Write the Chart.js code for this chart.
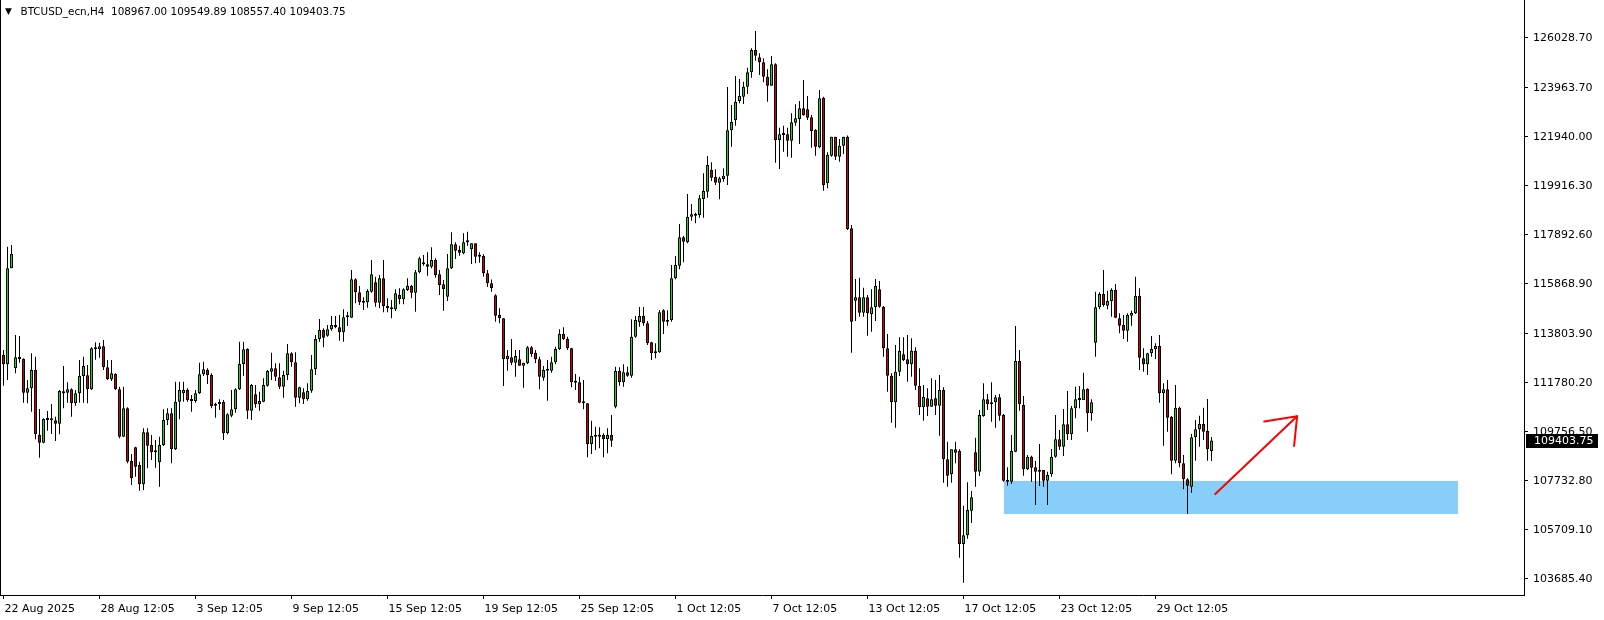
<!DOCTYPE html>
<html>
<head>
<meta charset="utf-8">
<title>BTCUSD_ecn,H4</title>
<script src="https://cdn.jsdelivr.net/npm/chart.js@4.4.0/dist/chart.umd.min.js"></script>
<style>
  html, body { margin: 0; padding: 0; background: #fff; }
  canvas { display: block; }
</style>
</head>
<body>
<canvas id="myChart" width="1604" height="620"></canvas>
<script>
const symbolName = 'BTCUSD_ecn,H4';

// H4 candles, one entry per bar (bar 0 = 22 Aug 12:05)
const opens = [
  112936,112551,116516,112386,112854,112771,111381,111560,112317,109632,
  109316,110252,110279,110238,110100,111353,111381,111518,110940,111353,
  112069,112097,111518,113170,113170,113294,112427,111931,112152,111518,
  109563,110734,108559,109123,108393,107595,109743,109219,108972,108504,
  109219,110252,110527,109040,111009,111353,111491,111078,111037,111353,
  112138,112317,112110,110899,110899,110995,109701,110431,110692,111518,
  112565,113184,110637,111312,110899,111009,111670,112248,112386,112014,
  111628,112110,113005,112633,111174,111394,111105,111463,112345,113597,
  113969,113735,113996,114175,114079,113873,114492,114478,116061,115525,
  115139,115112,115552,115938,115098,116103,114960,114891,114822,115414,
  115235,115621,115800,115511,116351,116764,116681,116584,116860,116268,
  115855,115346,116516,117507,117273,117135,117590,117300,117548,117025,
  117025,116309,115900,115400,114589,114451,112758,112840,112620,112758,
  112496,112592,113253,113033,112758,112000,112317,112289,112634,113170,
  113804,113597,113212,111835,111808,110995,110940,109261,109564,109564,
  109632,109467,109632,110803,112276,111807,112221,112083,113694,114286,
  114547,114244,113460,113074,113047,114781,114382,114382,116103,116626,
  117796,117590,118650,118691,118718,119379,119682,120577,120288,120054,
  120205,120343,122215,122642,123427,123606,124019,124611,125533,125230,
  125024,124432,124060,124941,121816,122022,122050,121789,122532,122683,
  123124,123083,122752,122229,121513,123564,120026,121169,121954,121128,
  121582,121954,118168,115180,115318,114684,115318,114616,114905,115648,
  114932,113212,112083,110981,112248,112964,112757,112551,113115,111657,
  110775,111146,110803,111146,110844,111491,108627,108008,109040,108972,
  105131,105489,106507,108916,108118,110417,111105,110899,110982,111188,
  110458,107746,107705,108944,112689,110871,108214,108738,108297,108145,
  108187,107746,108008,108738,109453,109150,110073,109660,110734,111119,
  111078,111532,110527,113446,114905,115456,114974,115167,115621,114451,
  114175,113941,114561,114657,115373,112799,112551,113005,113171,113308,
  111353,111518,110390,108572,110761,108462,107801,107499,109536,109866,
  110087,109798,108967.00
];
const highs = [
  113143,117411,117479,113762,113721,112799,111904,113005,112868,110706,
  110321,110624,110913,110390,111491,112482,111808,111560,111491,112730,
  112868,112523,113253,113460,113446,113556,112730,112730,112179,111628,
  111628,110775,108848,109150,108531,109907,109907,109632,109426,109564,
  110692,110734,110734,111835,111835,111835,111560,111284,111491,112620,
  112661,112386,112179,110968,111105,111078,110527,111491,111560,113487,
  113487,113220,111739,111698,111422,111973,112317,113033,112592,112592,
  112289,113391,113047,113047,111628,111560,111766,112936,113762,114423,
  114038,114175,114547,114547,114588,114822,114726,116447,116103,115786,
  115318,115648,116860,116172,116240,116860,115277,115208,115648,115690,
  115690,116103,115827,116447,116998,117066,117177,117383,116929,116447,
  116034,117108,118003,117590,117452,117961,118030,117548,117548,117177,
  117094,116450,116050,115450,114864,114451,113143,113597,113143,113143,
  112620,113308,113308,113143,112868,112482,112730,112868,113281,113997,
  114079,113694,113239,112152,112042,111904,110940,110224,109977,109949,
  109701,109908,110459,112455,112427,112551,112455,114409,114547,114919,
  114919,114341,113487,113418,114795,114823,114781,116653,117025,118347,
  117851,119586,119173,118815,119544,120439,121155,120894,120604,120302,
  120646,124005,123262,124459,124335,124225,124803,125602,126318,125395,
  125189,124734,125285,124982,122325,122408,122325,122918,123289,123427,
  124294,123633,122848,122256,123881,123606,121307,121954,121954,121857,
  121954,122000,118305,116075,116130,115717,115414,115648,116075,115993,
  114960,113804,112179,113349,113666,113666,113763,113625,113253,112386,
  111698,111560,111973,111904,112110,111601,109357,109040,109357,109040,
  106714,107677,107320,109522,110665,111766,111326,111808,111285,111326,
  110500,108297,109633,114134,113143,111243,108806,108779,108558,109261,
  108187,108118,109054,110458,109839,110706,111450,110830,111629,111656,
  112207,111560,111105,115552,115525,116447,115593,115690,115869,114657,
  114588,114657,114767,116172,115690,113212,113033,113721,113418,113762,
  111766,111904,110417,111697,110803,108806,107843,109674,110252,110431,
  110761,111119,109549.89
];
const lows = [
  111670,111904,116516,112179,112620,110968,110940,110596,109453,108696,
  109288,109811,109674,109385,109660,110734,110968,110390,110844,110968,
  110968,110940,111491,112744,112826,112317,111904,111863,111491,109495,
  109563,108462,107567,107912,107334,107361,108256,108600,108283,107499,
  109178,110045,108462,109013,110280,111009,111009,110596,110968,111326,
  112069,111739,110734,110348,110665,109426,109660,110362,110555,111491,
  112083,110293,110252,110761,110637,110981,111628,111904,111863,111532,
  111174,111904,112455,110802,110940,110913,111050,111381,112110,113487,
  113253,113694,113941,114038,113528,113487,114134,114478,115070,115002,
  114795,114891,115511,114932,114864,114698,114698,114451,114754,115029,
  115029,115580,115277,114726,116309,116626,116213,116516,116130,115414,
  114767,115167,116488,116901,117039,117094,117452,116695,116722,116750,
  116172,115750,115550,114313,114244,111656,112289,112523,112042,112496,
  111587,112551,112868,112592,111518,111877,111050,112207,112551,113143,
  113556,113143,111601,111491,110940,110692,108710,108848,109013,109082,
  108710,108875,109150,110734,111670,111629,112042,112000,113653,114107,
  114148,113349,112730,112799,113033,113804,114148,114313,116062,116475,
  116764,117548,118484,118374,118608,118608,119434,120123,119957,119365,
  120095,119957,121541,122408,123330,123303,123716,124390,125092,124500,
  124198,123399,124060,120880,120618,121334,121128,121086,122408,121651,
  122821,122642,121500,121169,121472,119723,119820,121128,120990,120921,
  121238,118099,113033,114340,114519,114519,113735,113900,114340,114891,
  112868,111422,110142,109935,112069,112689,111835,112042,111491,110458,
  110224,110417,110803,110458,109604,107664,107499,107664,108462,104567,
  103534,105350,106000,107499,107939,110390,110665,110183,109935,110224,
  107705,107540,107609,108916,110637,107953,108187,107705,106741,107527,
  107499,106741,107912,108696,109013,108765,109426,109426,110321,110734,
  111078,109770,110224,112868,114823,114933,114823,114520,114451,113831,
  113597,113487,114148,114630,112317,112248,112110,112868,112771,110968,
  109192,109770,108008,108462,108297,107389,106370,107251,108572,109150,
  109426,108572,108557.40
];
const closes = [
  112551,116516,117108,112840,112757,111381,111560,112317,109660,109316,
  110293,110279,110238,110100,111450,111408,111518,110940,111353,112069,
  112482,111518,113212,113212,113294,112427,111945,112179,111518,109563,
  110734,108531,107843,108324,107595,109743,109191,108917,108917,109219,
  110252,110527,109040,111009,111491,111491,111078,111037,111353,112138,
  112345,112110,110830,110844,110995,109701,110486,110692,111518,112565,
  113171,110637,111698,110899,111036,111698,112276,112386,112042,111628,
  112110,113005,112633,111174,111601,111105,111463,112345,113597,113969,
  113652,113996,114175,114079,113873,114492,114520,116061,115525,115112,
  115098,115580,116268,115098,116103,114960,114864,114822,115483,115235,
  115648,115800,115511,116351,116929,116681,116584,116860,116240,115827,
  115662,116516,117507,117245,117163,117590,117617,117548,116998,116998,
  116309,115900,115700,114561,114451,112758,112895,112620,112895,112496,
  112620,113253,112978,112758,112042,112317,112289,112634,113184,113804,
  113597,113212,111808,111794,110968,110940,109261,109591,109605,109632,
  109453,109632,109398,112276,111807,112221,112083,113694,114382,114547,
  114244,113418,113006,113006,114699,114313,114313,116103,116653,117796,
  117617,118650,118746,118760,119407,119710,120783,120260,120054,120233,
  120343,122215,122573,123399,123633,124019,124611,125533,125299,125024,
  124432,124060,124941,121816,122050,122064,121789,122546,122711,123124,
  122848,122738,122188,121541,123537,119957,121196,121954,121128,121582,
  121954,118140,114313,115318,114684,115318,114657,114905,115800,114932,
  113212,112083,110981,112248,113115,112730,112551,113115,111670,110775,
  111215,110803,111105,110844,111491,108627,107953,109040,108903,105131,
  105489,106535,107058,108118,110458,111105,110899,110982,111188,110431,
  107746,107705,108971,112689,110899,108214,108738,108283,108118,108118,
  107746,107981,108738,109453,109150,110073,109660,110734,111105,111078,
  111518,110527,110982,114905,115456,115001,115167,115621,114478,114148,
  113941,114588,114685,115373,112826,112551,113005,113184,113308,111353,
  111518,110348,108572,110761,108462,107801,107540,109536,109866,110087,
  109770,109040,109403.75
];

// time scale labels and the bar each one belongs to
const timeLabels = ['22 Aug 2025','28 Aug 12:05','3 Sep 12:05','9 Sep 12:05','15 Sep 12:05','19 Sep 12:05',
  '25 Sep 12:05','1 Oct 12:05','7 Oct 12:05','13 Oct 12:05','17 Oct 12:05','23 Oct 12:05','29 Oct 12:05'];
const timeLabelBars = [0,24,48,72,96,120,144,168,192,216,240,264,288];

// price scale labels
const priceTicks = [126028.70,123963.70,121940.00,119916.30,117892.60,115868.90,
  113803.90,111780.20,109756.50,107732.80,105709.10,103685.40];

// support zone (bars, prices) and the hand drawn arrow
const zoneBars = [250, 363.6];
const zonePrices = [106370, 107746];
const arrowBars = [302.95, 323.4];
const arrowPrices = [107192, 110405];
const arrowHeadBars = [315.2, 323.4, 322.65];
const arrowHeadPrices = [110190, 110405, 109178];

const upColor = '#14dc14';
const downColor = '#d10000';

Chart.defaults.font.family = '"DejaVu Sans", Verdana, sans-serif';
Chart.defaults.font.size = 11;
Chart.defaults.color = '#000';

const wicks = opens.map((o, i) => ({x: i, y: [lows[i], highs[i]]}));
const bodies = opens.map((o, i) => ({x: i, y: [o, closes[i]]}));
const bodyColors = opens.map((o, i) => closes[i] >= o ? upColor : downColor);

//zone rectangle behind the candles
const zonePlugin = {
  id: 'zone',
  beforeDatasetsDraw(chart) {
    const {ctx, scales: {x, y}} = chart;
    const x1 = Math.round(x.getPixelForValue(zoneBars[0]));
    const x2 = Math.round(x.getPixelForValue(zoneBars[1]));
    const y1 = Math.round(y.getPixelForValue(zonePrices[1]));
    const y2 = Math.round(y.getPixelForValue(zonePrices[0]));
    ctx.save();
    ctx.fillStyle = '#87cefa';
    ctx.fillRect(x1, y1, x2 - x1, y2 - y1);
    ctx.restore();
  }
};

//header line, left frame and last price tag
const infoPlugin = {
  id: 'info',
  afterDraw(chart) {
    const {ctx, chartArea, scales: {y}} = chart;
    const last = closes.length - 1;
    ctx.save();
    ctx.fillStyle = '#000';
    ctx.fillRect(0, 0, 1, chartArea.bottom);

    ctx.textBaseline = 'middle';
    ctx.font = '9px "DejaVu Sans"';
    ctx.fillText('\u25BC', 5, 12);
    ctx.font = '10.4px "DejaVu Sans"';
    const ohlc = [opens[last], highs[last], lows[last], closes[last]].map(v => v.toFixed(2)).join(' ');
    ctx.fillText(symbolName + '  ' + ohlc, 20.5, 12.5);

    ctx.font = '11px "DejaVu Sans"';
    const py = Math.round(y.getPixelForValue(closes[last]));
    ctx.fillRect(chartArea.right + 2, py - 7, 72, 14);
    ctx.fillStyle = '#fff';
    ctx.fillText(closes[last].toFixed(2), chartArea.right + 10, py);
    ctx.restore();
  }
};

const ctx = document.getElementById('myChart').getContext('2d');
const myChart = new Chart(ctx, {
  type: 'bar',
  data: {
    datasets: [
      {
        label: 'wick',
        data: wicks,
        backgroundColor: '#000',
        barThickness: 1,
        minBarLength: 1,
        grouped: false,
        inflateAmount: 0,
        order: 3
      },
      {
        label: 'body',
        data: bodies,
        backgroundColor: bodyColors,
        borderColor: '#000',
        borderWidth: 1,
        borderSkipped: false,
        barThickness: 3,
        minBarLength: 2,
        grouped: false,
        inflateAmount: 0,
        order: 2
      },
      {
        type: 'line',
        label: 'arrow',
        data: arrowBars.map((b, k) => ({x: b, y: arrowPrices[k]})),
        borderColor: '#ff0000',
        borderWidth: 2,
        pointRadius: 0,
        fill: false,
        borderCapStyle: 'round',
        order: 1
      },
      {
        type: 'line',
        label: 'arrow head',
        data: arrowHeadBars.map((b, k) => ({x: b, y: arrowHeadPrices[k]})),
        borderColor: '#ff0000',
        borderWidth: 2,
        pointRadius: 0,
        fill: false,
        borderCapStyle: 'round',
        borderJoinStyle: 'round',
        order: 1
      }
    ]
  },
  options: {
    responsive: false,
    animation: false,
    devicePixelRatio: 1,
    events: [],
    layout: { padding: 0 },
    plugins: {
      legend: { display: false },
      tooltip: { enabled: false }
    },
    scales: {
      x: {
        type: 'linear',
        position: 'bottom',
        min: -0.875,
        max: 380.125,
        offset: false,
        afterBuildTicks: s => { s.ticks = timeLabelBars.map(v => ({value: v})); },
        afterFit: s => { s.height = 25; s.paddingLeft = 0; s.paddingRight = 0; },
        grid: { display: true, drawOnChartArea: false, drawTicks: true, tickLength: 4, color: '#000', offset: false },
        border: { display: true, color: '#000' },
        ticks: {
          autoSkip: false,
          maxRotation: 0,
          minRotation: 0,
          align: 'start',
          labelOffset: 1,
          padding: 4,
          callback: (v, i) => timeLabels[i]
        }
      },
      y: {
        position: 'right',
        min: 103024.5,
        max: 127598,
        afterBuildTicks: s => { s.ticks = priceTicks.map(v => ({value: v})); },
        afterFit: s => { s.width = 80; s.paddingTop = 0; s.paddingBottom = 0; },
        grid: { display: true, drawOnChartArea: false, drawTicks: true, tickLength: 4, color: '#000' },
        border: { display: true, color: '#000' },
        ticks: {
          autoSkip: false,
          padding: 5,
          callback: v => Number(v).toFixed(2)
        }
      }
    }
  },
  plugins: [zonePlugin, infoPlugin]
});
</script>
</body>
</html>
